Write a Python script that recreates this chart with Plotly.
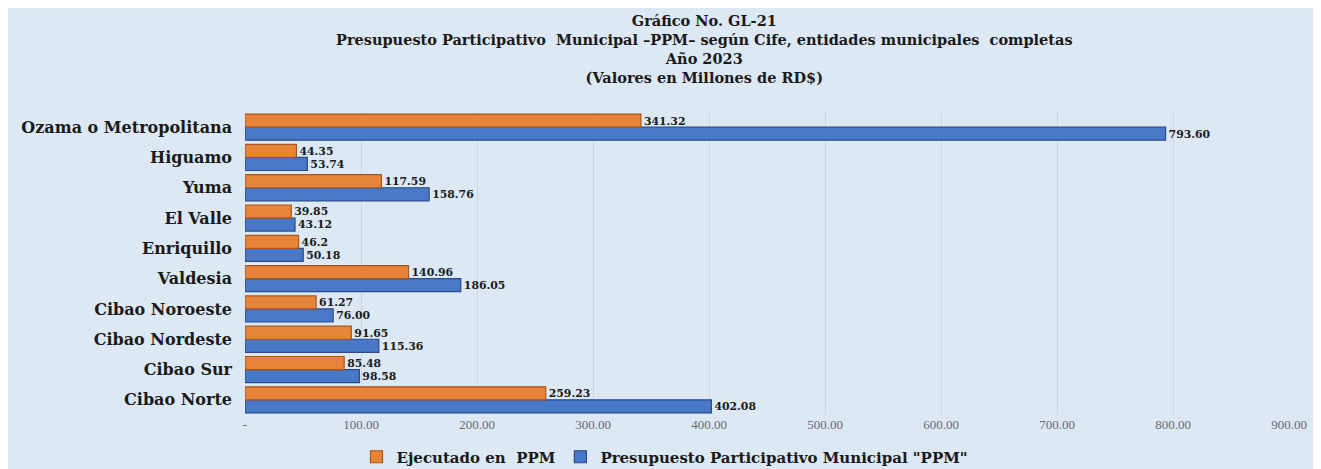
import plotly.graph_objects as go

# Data (bottom to top order on the chart)
regiones = ["Cibao Norte", "Cibao Sur", "Cibao Nordeste", "Cibao Noroeste", "Valdesia",
            "Enriquillo", "El Valle", "Yuma", "Higuamo", "Ozama o Metropolitana"]
ejecutado = [259.23, 85.48, 91.65, 61.27, 140.96, 46.2, 39.85, 117.59, 44.35, 341.32]
ejecutado_txt = ["259.23", "85.48", "91.65", "61.27", "140.96", "46.2", "39.85", "117.59", "44.35", "341.32"]
presupuesto = [402.08, 98.58, 115.36, 76.00, 186.05, 50.18, 43.12, 158.76, 53.74, 793.60]
presupuesto_txt = ["402.08", "98.58", "115.36", "76.00", "186.05", "50.18", "43.12", "158.76", "53.74", "793.60"]
tick_vals = [0, 100, 200, 300, 400, 500, 600, 700, 800, 900]
tick_text = ["-", "100.00", "200.00", "300.00", "400.00", "500.00", "600.00", "700.00", "800.00", "900.00"]
title_lines = ["Gráfico No. GL-21",
               "Presupuesto Participativo  Municipal \u2013PPM\u2013 según Cife, entidades municipales  completas",
               "Año 2023",
               "(Valores en Millones de RD$)"]

serif_w = "DejaVu Serif, serif"
serif = "Liberation Serif, Times New Roman, serif"
BG = "#dce8f4"

fig = go.Figure()
fig.add_trace(go.Bar(
    y=regiones, x=presupuesto, orientation="h",
    name='<b>Presupuesto Participativo Municipal "PPM"</b>',
    marker=dict(color="#4a78c8", line=dict(color="#2b4a86", width=1.2)),
    text=["<b>" + t + "</b>" for t in presupuesto_txt], textposition="outside", cliponaxis=False,
    textfont=dict(family=serif_w, size=12.5, color="#1a1a1a"),
    legendrank=2,
))
fig.add_trace(go.Bar(
    y=regiones, x=ejecutado, orientation="h", name="<b>Ejecutado en  PPM</b>",
    marker=dict(color="#e8843a", line=dict(color="#a9541a", width=1.2)),
    text=["<b>" + t + "</b>" for t in ejecutado_txt], textposition="outside", cliponaxis=False,
    textfont=dict(family=serif_w, size=12.5, color="#1a1a1a"),
    legendrank=1,
))

OFF = 8  # page body margin
W, H = 1321 - OFF, 469 - OFF
L, R, T, B = 245 - OFF, 32, 112 - OFF, 54
pw, ph = W - L - R, H - T - B


def px_x(p):  # screen px -> paper
    return (p - OFF - L) / pw


def px_y(p):
    return (H - B - (p - OFF)) / ph


fig.add_annotation(
    text="<b>" + "<br>".join(title_lines) + "</b>", x=px_x(704), y=px_y(49),
    xref="paper", yref="paper", xanchor="center", yanchor="middle", showarrow=False,
    font=dict(family=serif_w, size=14.5, color="#1a1a1a"),
)

fig.update_layout(
    width=W, height=H,
    margin=dict(l=L, r=R, t=T, b=B),
    paper_bgcolor=BG,
    plot_bgcolor=BG,
    barmode="group", bargap=0.14, bargroupgap=0.0,
    xaxis=dict(
        range=[0, 900], tickvals=tick_vals, ticktext=tick_text,
        showgrid=True, gridcolor="#cdd6e0", gridwidth=1,
        zeroline=False, showline=False,
        tickfont=dict(family=serif, size=13, color="#6b6b6b"),
        ticks="", automargin=False,
    ),
    yaxis=dict(
        categoryorder="array", categoryarray=regiones,
        tickfont=dict(family=serif_w, size=16, color="#1a1a1a"),
        showgrid=False, showline=False, ticks="", ticklabelstandoff=12,
        tickprefix="<b>", ticksuffix="</b>", automargin=False,
    ),
    legend=dict(
        orientation="h", x=(665 - OFF) / W, xref="container", xanchor="center",
        y=(469 - 457) / H, yref="container", yanchor="middle",
        font=dict(family=serif_w, size=15, color="#1a1a1a"),
        bgcolor="rgba(0,0,0,0)", itemwidth=30, tracegroupgap=0,
    ),
    showlegend=True,
)

fig.write_html("out.html")
